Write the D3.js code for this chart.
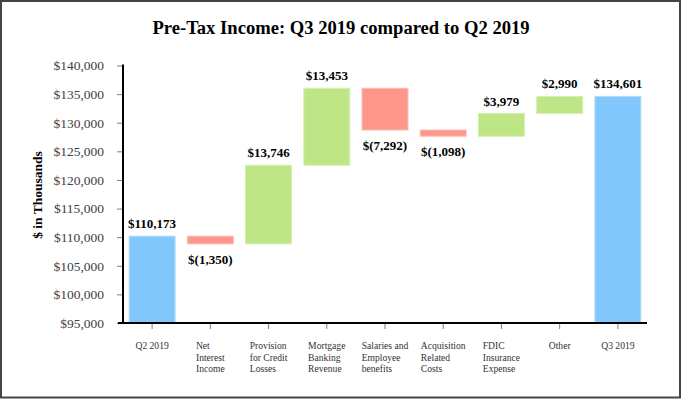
<!DOCTYPE html>
<html><head><meta charset="utf-8">
<script src="https://cdn.jsdelivr.net/npm/d3@7"></script>
<style>
body{margin:0;background:#fff;}
svg text{font-family:"Liberation Serif","Times New Roman",serif !important;}
</style></head>
<body>
<svg id="chart" width="682" height="400"></svg>
<script>
const categories = ["Q2 2019","Net Interest Income","Provision for Credit Losses","Mortgage Banking Revenue","Salaries and Employee benefits","Acquisition Related Costs","FDIC Insurance Expense","Other","Q3 2019"];
const categoryLines = [["Q2 2019"],["Net","Interest","Income"],["Provision","for Credit","Losses"],["Mortgage","Banking","Revenue"],["Salaries and","Employee","benefits"],["Acquisition","Related","Costs"],["FDIC","Insurance","Expense"],["Other"],["Q3 2019"]];
const values = [110173,-1350,13746,13453,-7292,-1098,3979,2990,134601];
const isTotal = [true,false,false,false,false,false,false,false,true];
const yTicks = [95000,100000,105000,110000,115000,120000,125000,130000,135000,140000];

const svg = d3.select("#chart");
svg.append("rect").attr("x",1).attr("y",1).attr("width",679).attr("height",396.5)
  .attr("fill","#fff").attr("stroke","#444").attr("stroke-width",2);

const x = d3.scaleBand().domain(categories).range([123,647]).paddingInner(0.21).paddingOuter(0.105);
const y = d3.scaleLinear().domain([95000,140000]).range([323,65.5]);

let run = 0;
const bars = categories.map((c,i)=>{
  let y0,y1;
  if(isTotal[i]){ y0 = 95000; y1 = values[i]; run = values[i]; }
  else { y0 = run; y1 = run + values[i]; run = y1; }
  return {c, v:values[i], lo:Math.min(y0,y1), hi:Math.max(y0,y1), total:isTotal[i]};
});
const fillOf = d => d.total ? "#82c7fb" : (d.v<0 ? "#ff968c" : "#bee686");
const strokeOf = d => d.total ? "#b3dcfb" : (d.v<0 ? "#ffbdb5" : "#d6f0b2");

svg.append("text").attr("x",341).attr("y",34).attr("text-anchor","middle")
  .attr("font-size",18.6).attr("font-weight","bold").attr("fill","#000")
  .text("Pre-Tax Income: Q3 2019 compared to Q2 2019");

const yAxis = d3.axisLeft(y).tickValues(yTicks).tickSize(6).tickPadding(13)
  .tickFormat(d=>"$"+d3.format(",")(d));
const gy = svg.append("g").attr("transform","translate(123,0)").call(yAxis);
gy.select(".domain").remove();
gy.selectAll(".tick line").attr("stroke","#7f7f7f");
gy.selectAll(".tick text").attr("font-size",13.5).attr("fill","#404040");

svg.append("text").attr("transform","translate(42,195) rotate(-90)")
  .attr("text-anchor","middle").attr("font-size",13.5).attr("font-weight","bold")
  .text("$ in Thousands");

svg.append("g").selectAll("rect").data(bars).join("rect")
  .attr("x",d=>x(d.c)).attr("width",x.bandwidth())
  .attr("y",d=>y(d.hi)).attr("height",d=>y(d.lo)-y(d.hi))
  .attr("fill",fillOf).attr("stroke",strokeOf).attr("stroke-width",1);

svg.append("g").selectAll("text").data(bars).join("text")
  .attr("x",d=>x(d.c)+x.bandwidth()/2)
  .attr("y",d=> d.v<0 ? y(d.lo)+20 : y(d.hi)-8)
  .attr("text-anchor","middle").attr("font-size",13).attr("font-weight","bold").attr("fill","#000")
  .text(d=> d.v<0 ? "$("+d3.format(",")(-d.v)+")" : "$"+d3.format(",")(d.v));

const xAxis = d3.axisBottom(x).tickSize(6).tickFormat("");
const gx = svg.append("g").attr("transform","translate(0,323)").call(xAxis);
gx.select(".domain").remove();
gx.selectAll(".tick line").attr("stroke","#7f7f7f");

svg.append("line").attr("x1",123).attr("x2",123).attr("y1",64.5).attr("y2",324).attr("stroke","#000").attr("stroke-width",2);
svg.append("line").attr("x1",118).attr("x2",647).attr("y1",323).attr("y2",323).attr("stroke","#000").attr("stroke-width",2);

const cg = svg.append("g");
categories.forEach((c,i)=>{
  const cx = x(c)+x.bandwidth()/2;
  const lines = categoryLines[i];
  const t = cg.append("text").attr("font-size",9.6).attr("fill","#333");
  lines.forEach((l,j)=>{
    t.append("tspan").attr("x",0).attr("y",349+j*11.5).text(l);
  });
  if(lines.length===1){
    t.attr("text-anchor","middle").selectAll("tspan").attr("x",cx);
  } else {
    let maxW = 0;
    t.selectAll("tspan").each(function(){ maxW = Math.max(maxW,this.getComputedTextLength()); });
    t.selectAll("tspan").attr("x",cx-maxW/2);
  }
});
</script>
</body></html>
